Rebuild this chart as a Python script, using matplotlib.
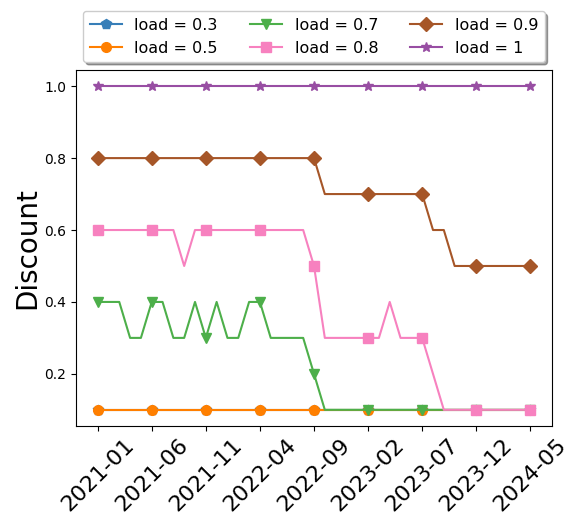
import matplotlib
matplotlib.use("Agg")
import matplotlib.pyplot as plt

# monthly labels 2021-01 .. 2024-05
months = [f"{y}-{m:02d}" for y in range(2021, 2025) for m in range(1, 13)][:41]

load_03 = [0.1] * 41
load_05 = [0.1] * 41
load_07 = [0.4, 0.4, 0.4, 0.3, 0.3, 0.4, 0.4, 0.3, 0.3, 0.4,
           0.3, 0.4, 0.3, 0.3, 0.4, 0.4, 0.3, 0.3, 0.3, 0.3,
           0.2] + [0.1] * 20
load_08 = [0.6] * 8 + [0.5] + [0.6] * 11 + [0.5] + [0.3] * 6 + [0.4] + \
          [0.3] * 3 + [0.2] + [0.1] * 9
load_09 = [0.8] * 21 + [0.7] * 10 + [0.6] * 2 + [0.5] * 8
load_1 = [1.0] * 41

series = [
    ("load = 0.3", load_03, "#377eb8", "p"),
    ("load = 0.5", load_05, "#ff7f00", "o"),
    ("load = 0.7", load_07, "#4daf4a", "v"),
    ("load = 0.8", load_08, "#f781bf", "s"),
    ("load = 0.9", load_09, "#a65628", "D"),
    ("load = 1", load_1, "#984ea3", "*"),
]

fig = plt.figure(figsize=(5.77, 5.21), dpi=100)
ax = fig.add_axes([76 / 577, 1 - 426 / 521, 476 / 577, 356 / 521])

x = list(range(len(months)))
for label, vals, color, marker in series:
    ax.plot(x, vals, color=color, marker=marker, markevery=5,
            markersize=7, linewidth=1.5, label=label)

ax.set_xticks(x[::5])
ax.set_xticklabels(months[::5], rotation=45, fontsize=16)
ax.tick_params(axis="x", pad=3)
ax.set_yticks([0.2, 0.4, 0.6, 0.8, 1.0])
ax.set_ylabel("Discount", fontsize=20, labelpad=2)

ax.legend(loc="lower center", bbox_to_anchor=(0.5, 1.0), ncol=3,
          shadow=True, fontsize=11.5)

fig.savefig("out.png", dpi=100)
